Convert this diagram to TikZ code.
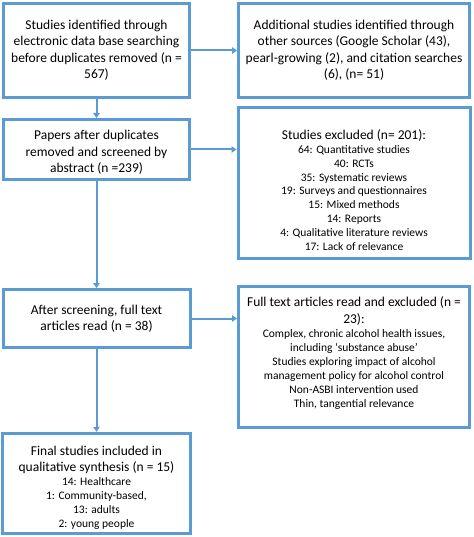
\documentclass[tikz,border=0pt]{standalone}
\usepackage{fontspec}
\setmainfont{Carlito}
\usepackage{xcolor}
\usetikzlibrary{arrows.meta}

\definecolor{boxblue}{HTML}{5B9BD5}
\newcommand{\bigtxt}{\fontsize{13.5}{16.5}\selectfont}
% list of smaller lines under a box title
\newcommand{\smalllist}[1]{{\fontsize{11.5}{13.9}\selectfont
    \begin{tabular}[t]{@{}c@{}}#1\end{tabular}}}

\tikzset{
    flowbox/.style = {draw = boxblue, line width = 3pt, rectangle, align = center,
                      inner sep = 2pt, font = \bigtxt},
    flowarrow/.style = {draw = boxblue, line width = 2pt, -{Triangle[length = 5pt, width = 6.5pt]}}
}

\begin{document}
\begin{tikzpicture}[node distance = 100pt, auto]
    \useasboundingbox (0pt, 0pt) rectangle (473pt, -537pt);

    \node[flowbox, minimum width = 186pt, minimum height = 94pt] (s1) at (96.5pt, -50.5pt)
        {Studies identified through\\ electronic data base searching\\ before duplicates removed (n =\\ 567)};
    \node[flowbox, minimum width = 231pt, minimum height = 94pt] (s2) [right of = s1, node distance = 257.5pt]
        {Additional studies identified through\\ other sources (Google Scholar (43),\\ pearl-growing (2), and citation searches\\ (6), (n= 51)};
    \node[flowbox, minimum width = 186pt, minimum height = 60pt] (s3) [below of = s1, node distance = 99pt]
        {\rule{0pt}{15pt}Papers after duplicates\\ removed and screened by\\ abstract (n =239)};
    \node[flowbox, minimum width = 232pt, minimum height = 151pt] (s4) [below of = s2, node distance = 132.5pt]
        {\rule{0pt}{28pt}Studies excluded (n= 201):\\[-2.5pt]
         \smalllist{64: Quantitative studies\\ 40: RCTs\\ 35: Systematic reviews\\
                    19: Surveys and questionnaires\\ 15: Mixed methods\\ 14: Reports\\
                    4: Qualitative literature reviews\\ 17: Lack of relevance}};
    \node[flowbox, minimum width = 187pt, minimum height = 58pt] (s5) [below of = s3, node distance = 169pt]
        {After screening, full text\\ articles read (n = 38)};
    \node[flowbox, minimum width = 231pt, minimum height = 141pt] (s6) [below of = s4, node distance = 174pt]
        {Full text articles read and excluded (n =\\[1pt] 23):\\[-2.5pt]
         \smalllist{Complex, chronic alcohol health issues,\\ including ‘substance abuse’\\
                    Studies exploring impact of alcohol\\ management policy for alcohol control\\
                    Non-ASBI intervention used\\ Thin, tangential relevance\rule[-10pt]{0pt}{10pt}}};
    \node[flowbox, minimum width = 188pt, minimum height = 100pt] (s7) [below of = s5, node distance = 165pt]
        {\rule{0pt}{20pt}Final studies included in\\ qualitative synthesis (n = 15)\\[-2.5pt]
         \smalllist{14: Healthcare\\ 1: Community-based,\\ 13: adults\\ 2: young people}};

    \draw[flowarrow] (s1) -- (s2);
    \draw[flowarrow] (s1) -- (s3);
    \draw[flowarrow] (s3) -- (s5);
    \draw[flowarrow] (s5) -- (s7);
    \draw[flowarrow] (s3.east) -- (s3.east -| s4.west);
    \draw[flowarrow] (s5.east) -- (s5.east -| s6.west);
\end{tikzpicture}
\end{document}
